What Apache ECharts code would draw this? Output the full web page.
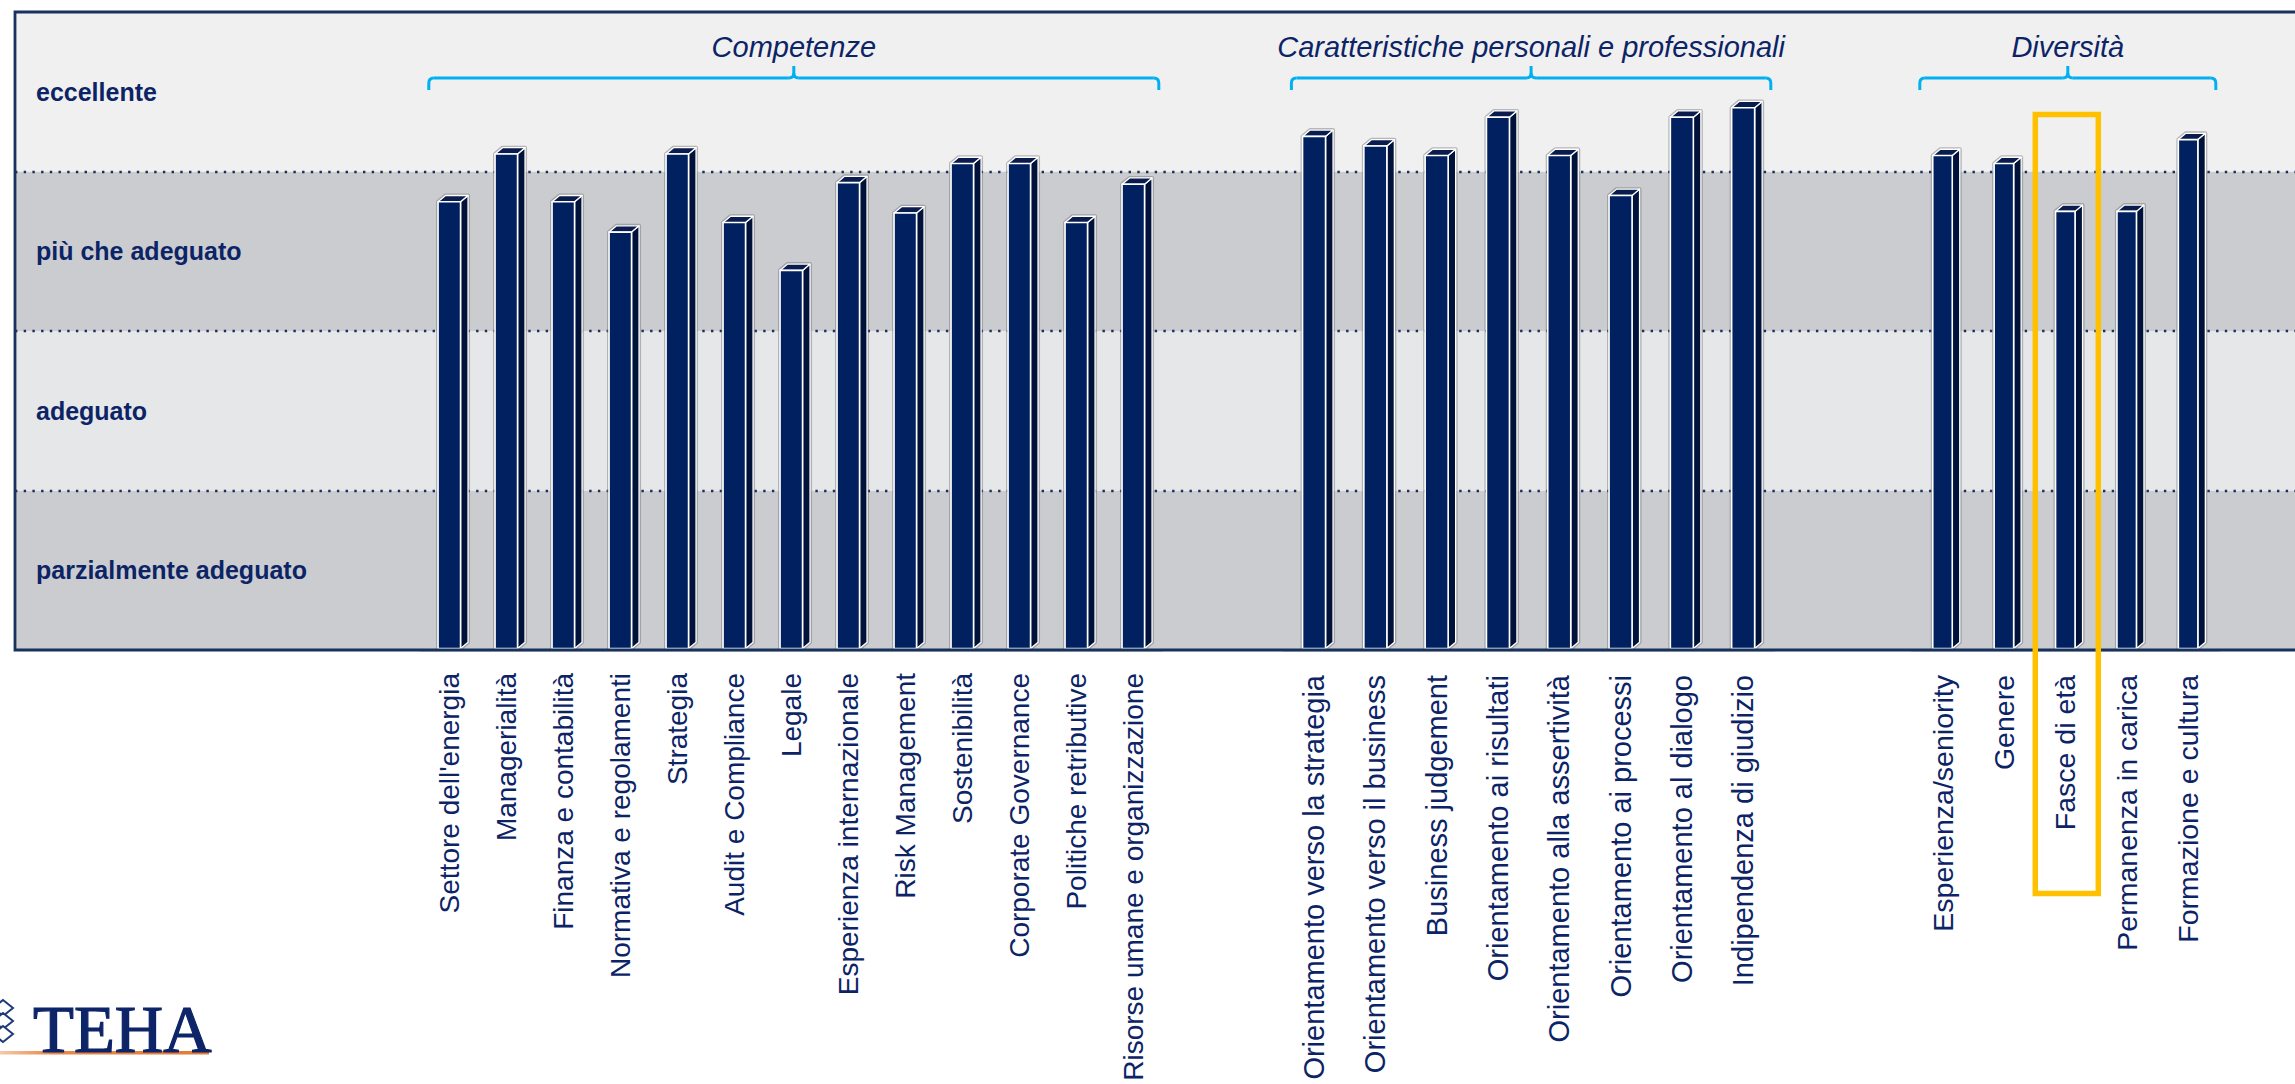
<!DOCTYPE html>
<html><head><meta charset="utf-8">
<script src="https://cdn.jsdelivr.net/npm/echarts@6/dist/echarts.min.js"></script>
<style>html,body{margin:0;padding:0;background:#fff;overflow:hidden}#c{width:2295px;height:1084px;}</style>
</head><body><div id="c"></div>
<script>
// ---------------- data ----------------
const levels = ['parzialmente adeguato', 'adeguato', 'più che adeguato', 'eccellente'];
const groupTitles = ['Competenze', 'Caratteristiche personali e professionali', 'Diversità'];
const competenzeCats = ["Settore dell'energia", 'Managerialità', 'Finanza e contabilità', 'Normativa e regolamenti',
  'Strategia', 'Audit e Compliance', 'Legale', 'Esperienza internazionale', 'Risk Management', 'Sostenibilità',
  'Corporate Governance', 'Politiche retributive', 'Risorse umane e organizzazione'];
const competenzeVals = [2.81, 3.11, 2.81, 2.62, 3.11, 2.68, 2.38, 2.93, 2.74, 3.05, 3.05, 2.68, 2.92];
const caratteristicheCats = ['Orientamento verso la strategia', 'Orientamento verso il business', 'Business judgement',
  'Orientamento ai risultati', 'Orientamento alla assertività', 'Orientamento ai processi', 'Orientamento al dialogo',
  'Indipendenza di giudizio'];
const caratteristicheVals = [3.22, 3.16, 3.10, 3.34, 3.10, 2.85, 3.34, 3.40];
const diversitaCats = ['Esperienza/seniority', 'Genere', 'Fasce di età', 'Permanenza in carica', 'Formazione e cultura'];
const diversitaVals = [3.10, 3.05, 2.75, 2.75, 3.20];
const highlighted = 'Fasce di età';

// ---------------- layout ----------------
const W = 2295, H = 1084;
const PLOT_LEFT = 15, PLOT_TOP = 12, PLOT_BOTTOM = 650;
const NAVY = '#0c2466';
const SANS = "'Liberation Sans', Arial, Helvetica, sans-serif";
const groups = [
  { cats: competenzeCats, vals: competenzeVals, left: 420.8, width: 741, barW: 22.5, fontSize: 28, margin: 19 },
  { cats: caratteristicheCats, vals: caratteristicheVals, left: 1283.4, width: 490.4, barW: 23, fontSize: 29, margin: 21 },
  { cats: diversitaCats, vals: diversitaVals, left: 1911.8, width: 307, barW: 19.5, fontSize: 28.5, margin: 21 }
];

function makeRender(barW) {
  return function (params, api) {
    const top = api.coord([api.value(0), api.value(1)]);
    const base = api.coord([api.value(0), 0]);
    const dx = 7.5, dy = 6.3;
    const x1 = top[0] - barW / 2, x2 = top[0] + barW / 2;
    const yT = top[1], yB = base[1] - 1.5;
    return {
      type: 'group', children: [
        { type: 'polygon', shape: { points: [[x1, yB], [x1, yT], [x1 + dx, yT - dy], [x2 + dx, yT - dy], [x2 + dx, yB - dy], [x2, yB]] },
          style: { fill: 'none', stroke: 'rgba(110,110,110,0.45)', lineWidth: 4, lineJoin: 'round' } },
        { type: 'polygon', shape: { points: [[x2, yT], [x2 + dx, yT - dy], [x2 + dx, yB - dy], [x2, yB]] },
          style: { fill: '#00113a', stroke: '#ffffff', lineWidth: 1.3, lineJoin: 'round' } },
        { type: 'polygon', shape: { points: [[x1, yT], [x1 + dx, yT - dy], [x2 + dx, yT - dy], [x2, yT]] },
          style: { fill: '#0a1c4e', stroke: '#ffffff', lineWidth: 1.3, lineJoin: 'round' } },
        { type: 'rect', shape: { x: x1, y: yT, width: barW, height: yB - yT },
          style: { fill: '#00205f', stroke: '#ffffff', lineWidth: 1.6 } }
      ]
    };
  };
}

const chart = echarts.init(document.getElementById('c'), null, { renderer: 'svg', width: W, height: H });

const grid = [{ left: PLOT_LEFT, top: PLOT_TOP, right: -20, bottom: H - PLOT_BOTTOM, containLabel: false, outerBoundsMode: 'none' }];
const xAxis = [{ gridIndex: 0, type: 'value', min: 0, max: 1, show: false }];
const yAxis = [
  { gridIndex: 0, type: 'value', min: 0, max: 4, interval: 1, z: 1,
    axisLine: { show: false }, axisTick: { show: false }, axisLabel: { show: false },
    splitLine: { show: true, showMinLine: false, showMaxLine: false,
      lineStyle: { color: '#1a2f5c', width: 2.4, type: [2.4, 6.3] } },
    splitArea: { show: true, areaStyle: { color: ['#cbccd0', '#e6e7e9', '#cbccd0', '#f0f0f0'] } } },
  { gridIndex: 0, type: 'category', data: levels, position: 'left', z: 3,
    axisLine: { show: false }, axisTick: { show: false }, splitLine: { show: false },
    axisLabel: { inside: true, margin: 21, align: 'left', verticalAlign: 'middle', padding: [8, 0, 0, 0],
      color: NAVY, fontFamily: SANS, fontWeight: 'bold', fontSize: 25 } }
];
const series = [];
groups.forEach((g, k) => {
  const gi = k + 1;
  grid.push({ left: g.left, width: g.width, top: PLOT_TOP, bottom: H - PLOT_BOTTOM, containLabel: false, outerBoundsMode: 'none' });
  xAxis.push({ gridIndex: gi, type: 'category', data: g.cats, boundaryGap: true, offset: 4,
    axisTick: { show: false },
    axisLine: { show: true, lineStyle: { color: '#d4d4d4', width: 2.5 } },
    axisLabel: { interval: 0, rotate: 90, margin: g.margin, color: NAVY, fontFamily: SANS, fontSize: g.fontSize } });
  yAxis.push({ gridIndex: gi, type: 'value', min: 0, max: 4, show: false, splitLine: { show: false } });
  series.push({ type: 'custom', xAxisIndex: gi, yAxisIndex: gi + 1, z: 5,
    renderItem: makeRender(g.barW), encode: { x: 0, y: 1 },
    data: g.vals.map((v, i) => [i, v]) });
});

chart.setOption({ animation: false, backgroundColor: '#ffffff', grid, xAxis, yAxis, series });

// ---------------- annotations ----------------
const BR = { stroke: '#00b0f0', lineWidth: 3, fill: 'none' };
function bracket(xl, xr) {
  const xm = (xl + xr) / 2, y = 78, r = 5;
  const seg = (a, b, c, d) => ({ type: 'line', z: 20, shape: { x1: a, y1: b, x2: c, y2: d }, style: BR });
  const crv = (a, b, c, d, cx, cy) => ({ type: 'bezierCurve', z: 20, shape: { x1: a, y1: b, x2: c, y2: d, cpx1: cx, cpy1: cy }, style: BR });
  return [
    seg(xl, 90, xl, y + r), crv(xl, y + r, xl + r, y, xl, y), seg(xl + r, y, xm - r, y),
    crv(xm - r, y, xm, y - r, xm, y), seg(xm, y - r, xm, 66), crv(xm, y - r, xm + r, y, xm, y),
    seg(xm + r, y, xr - r, y), crv(xr - r, y, xr, y + r, xr, y), seg(xr, y + r, xr, 90)
  ];
}
let graphics = [];
groups.forEach((g, k) => {
  const xl = g.left + 8, xr = g.left + g.width - 3;
  graphics = graphics.concat(bracket(xl, xr));
  graphics.push({ type: 'text', z: 20, x: (xl + xr) / 2, y: 47,
    style: { text: groupTitles[k], fill: NAVY, align: 'center', verticalAlign: 'middle',
      font: "italic 29px 'Liberation Sans', Arial, sans-serif" } });
});
// frame
graphics.push({ type: 'polyline', z: 30, shape: { points: [[W + 10, PLOT_TOP], [PLOT_LEFT, PLOT_TOP], [PLOT_LEFT, PLOT_BOTTOM], [W + 10, PLOT_BOTTOM]] },
  style: { fill: 'none', stroke: '#17325c', lineWidth: 2.8 } });
// highlight box
const hx = chart.convertToPixel({ xAxisIndex: 3 }, highlighted);
graphics.push({ type: 'rect', z: 40, shape: { x: hx - 30, y: 114.5, width: 63, height: 779 },
  style: { fill: 'none', stroke: '#ffc000', lineWidth: 5.5 } });
// logo
graphics.push({ type: 'rect', z: 20, shape: { x: 0, y: 1051, width: 209, height: 3.5 },
  style: { fill: { type: 'linear', x: 0, y: 0, x2: 1, y2: 0,
    colorStops: [{ offset: 0, color: '#f6c9a6' }, { offset: 0.25, color: '#e8894a' }, { offset: 1, color: '#e07b39' }] } } });
[1008, 1021, 1034].forEach(cy => {
  graphics.push({ type: 'polygon', z: 20, shape: { points: [[3, cy - 8], [13, cy], [3, cy + 8], [-7, cy]] },
    style: { fill: '#ffffff', stroke: '#1e3a78', lineWidth: 2 } });
});
graphics.push({ type: 'text', z: 20, x: 33, y: 1062,
  style: { text: 'TEHA', fill: '#0d2568', stroke: '#0d2568', lineWidth: 1.2, align: 'left', verticalAlign: 'bottom',
    font: "67px 'Liberation Serif', 'Times New Roman', serif" } });

chart.setOption({ graphic: graphics });
</script>
</body></html>
